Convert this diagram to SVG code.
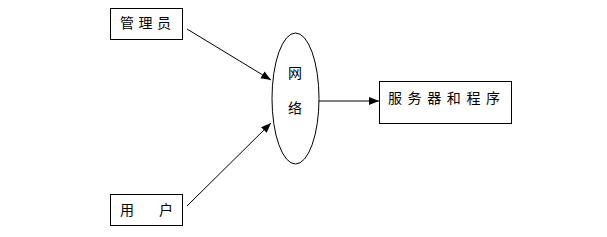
<svg xmlns="http://www.w3.org/2000/svg" width="607" height="237" viewBox="0 0 607 237">
<style>
.box{fill:#fff;stroke:#000;stroke-width:1}
.t{font-family:"Liberation Sans","Noto Sans CJK SC",sans-serif;font-size:14px;fill:#000}
.c{stroke:#000;stroke-width:1;fill:none;marker-end:url(#ah)}
</style>
<defs>
<marker id="ah" viewBox="0 0 10 10" refX="10" refY="5" markerWidth="10" markerHeight="10" markerUnits="userSpaceOnUse" orient="auto">
<path d="M0,1 L10,5 L0,9 Z" fill="#000"/>
</marker>
</defs>
<rect width="607" height="237" fill="#fff"/>
<g id="connectors">
<line class="c" x1="187" y1="29" x2="271" y2="80"/>
<line class="c" x1="187" y1="206" x2="271" y2="123"/>
<line class="c" x1="319" y1="101" x2="379" y2="101"/>
</g>
<g id="admin">
<rect class="box" x="110.5" y="8.5" width="72" height="31"/>
<text class="t" x="120" y="28" letter-spacing="4.5">管理员</text>
</g>
<g id="user">
<rect class="box" x="110.5" y="194.5" width="72" height="31"/>
<text class="t" x="120" y="215">用</text>
<text class="t" x="159" y="215">户</text>
</g>
<g id="network">
<ellipse class="box" cx="295.5" cy="98.5" rx="23.5" ry="65.5"/>
<text class="t" x="288" y="78">网</text>
<text class="t" x="288" y="113">络</text>
</g>
<g id="server">
<rect class="box" x="379.5" y="81.5" width="132" height="42"/>
<text class="t" x="388" y="103" letter-spacing="5.6">服务器和程序</text>
</g>
</svg>
